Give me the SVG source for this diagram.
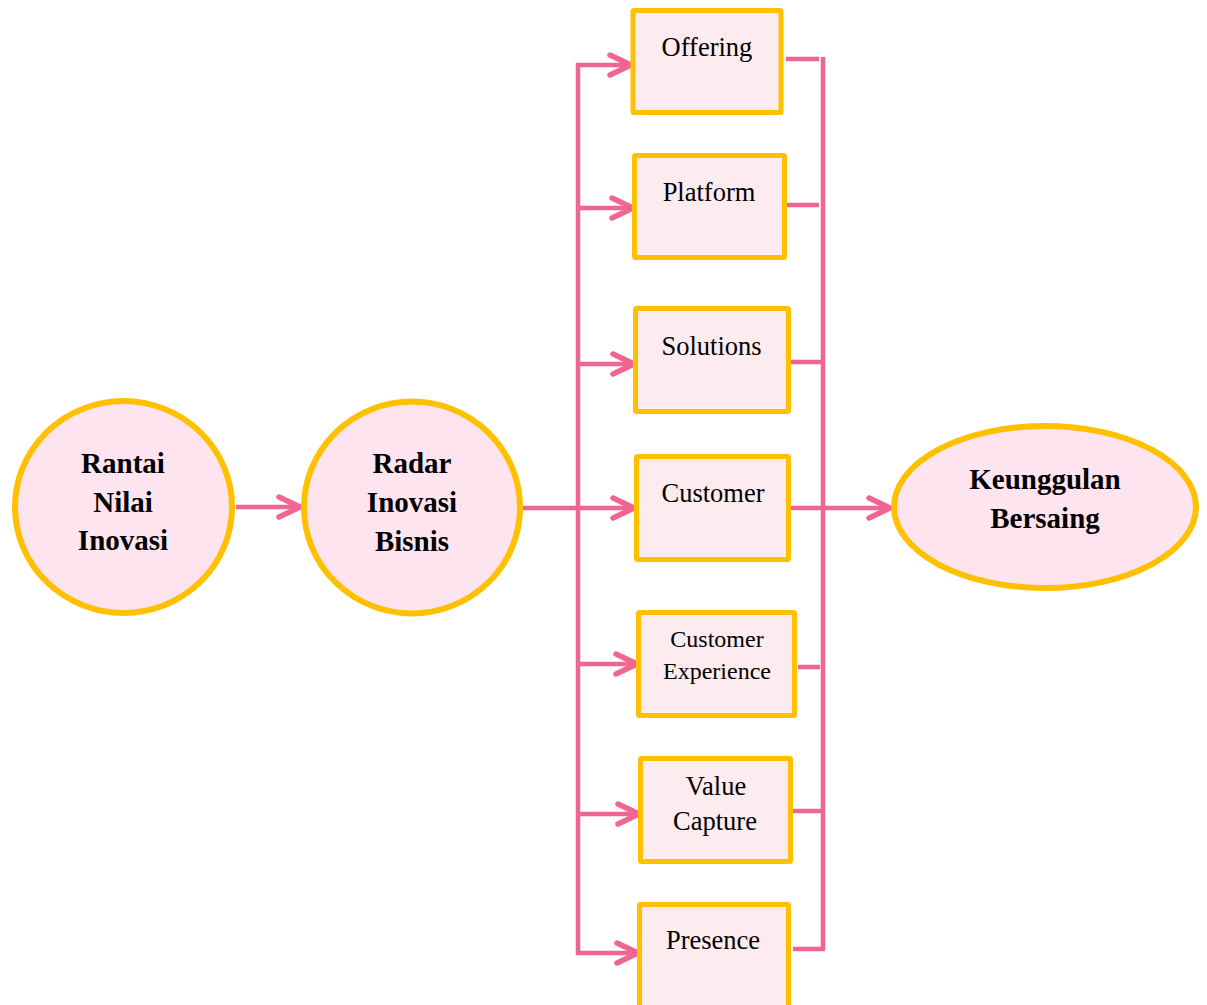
<svg xmlns="http://www.w3.org/2000/svg" width="1207" height="1005" viewBox="0 0 1207 1005">
<style>
.node{fill:#FDE4EF;stroke:#FFC000;stroke-width:6}
.box{fill:#FCEBEF;stroke:#FFC000;stroke-width:5}
.ln{fill:none;stroke:#F06690;stroke-width:4.5}
.bold{font-family:"Liberation Serif","Times New Roman",serif;font-weight:bold;font-size:29px;fill:#000;text-anchor:middle}
.reg{font-family:"Liberation Serif","Times New Roman",serif;font-size:26.5px;fill:#000;text-anchor:middle}
.sm{font-size:24px}
</style>
<defs>
<marker id="arr" markerUnits="userSpaceOnUse" markerWidth="30" markerHeight="30" viewBox="-3 -3 30 28" refX="21" refY="10" orient="auto" overflow="visible">
<path d="M0,0 L21,10 L0,20" fill="none" stroke="#F06690" stroke-width="5.5" stroke-linecap="round" stroke-linejoin="round"/>
</marker>
</defs>
<rect width="1207" height="1005" fill="#fff"/>
<g id="connectors">
<line class="ln" x1="236" y1="507" x2="300" y2="507" marker-end="url(#arr)"/>
<line class="ln" x1="523" y1="508" x2="634" y2="508" marker-end="url(#arr)"/>
<line class="ln" x1="578" y1="63" x2="578" y2="955"/>
<line class="ln" x1="576" y1="65" x2="631" y2="65" marker-end="url(#arr)"/>
<line class="ln" x1="576" y1="208" x2="633" y2="208" marker-end="url(#arr)"/>
<line class="ln" x1="576" y1="364" x2="634" y2="364" marker-end="url(#arr)"/>
<line class="ln" x1="576" y1="664" x2="637" y2="664" marker-end="url(#arr)"/>
<line class="ln" x1="576" y1="814" x2="639" y2="814" marker-end="url(#arr)"/>
<line class="ln" x1="576" y1="953" x2="638" y2="953" marker-end="url(#arr)"/>
<line class="ln" x1="823" y1="57" x2="823" y2="950"/>
<line class="ln" x1="786" y1="59" x2="819" y2="59"/>
<line class="ln" x1="787" y1="205" x2="819" y2="205"/>
<line class="ln" x1="790" y1="362" x2="823" y2="362"/>
<line class="ln" x1="798" y1="667" x2="820" y2="667"/>
<line class="ln" x1="792" y1="811" x2="823" y2="811"/>
<line class="ln" x1="793" y1="949" x2="825" y2="949"/>
<line class="ln" x1="791" y1="508" x2="890" y2="508" marker-end="url(#arr)"/>
</g>
<g id="rantai">
<ellipse class="node" cx="123.5" cy="507" rx="108.5" ry="106"/>
<text class="bold" x="123" y="473">Rantai</text>
<text class="bold" x="123" y="512">Nilai</text>
<text class="bold" x="123" y="550">Inovasi</text>
</g>
<g id="radar">
<ellipse class="node" cx="412" cy="507.5" rx="108" ry="106"/>
<text class="bold" x="412" y="473">Radar</text>
<text class="bold" x="412" y="512">Inovasi</text>
<text class="bold" x="412" y="551">Bisnis</text>
</g>
<g id="keunggulan">
<ellipse class="node" cx="1045" cy="507" rx="151" ry="81"/>
<text class="bold" x="1045" y="489">Keunggulan</text>
<text class="bold" x="1045" y="528">Bersaing</text>
</g>
<g id="offering">
<rect class="box" x="633" y="10.5" width="148" height="102" rx="1"/>
<text class="reg" x="707" y="56">Offering</text>
</g>
<g id="platform">
<rect class="box" x="634.5" y="155.5" width="150" height="102" rx="1"/>
<text class="reg" x="709" y="201">Platform</text>
</g>
<g id="solutions">
<rect class="box" x="635.5" y="308.5" width="153" height="103" rx="1"/>
<text class="reg" x="711.5" y="355">Solutions</text>
</g>
<g id="customer">
<rect class="box" x="636.5" y="456.5" width="152" height="103" rx="1"/>
<text class="reg" x="713" y="502">Customer</text>
</g>
<g id="customer-experience">
<rect class="box" x="638.5" y="612.5" width="156" height="103" rx="1"/>
<text class="reg sm" x="717" y="647">Customer</text>
<text class="reg sm" x="717" y="679">Experience</text>
</g>
<g id="value-capture">
<rect class="box" x="640.5" y="758.5" width="150" height="103" rx="1"/>
<text class="reg" x="716" y="795">Value</text>
<text class="reg" x="715" y="830">Capture</text>
</g>
<g id="presence">
<rect class="box" x="639.5" y="904.5" width="149" height="103" rx="1"/>
<text class="reg" x="713" y="949">Presence</text>
</g>
</svg>
